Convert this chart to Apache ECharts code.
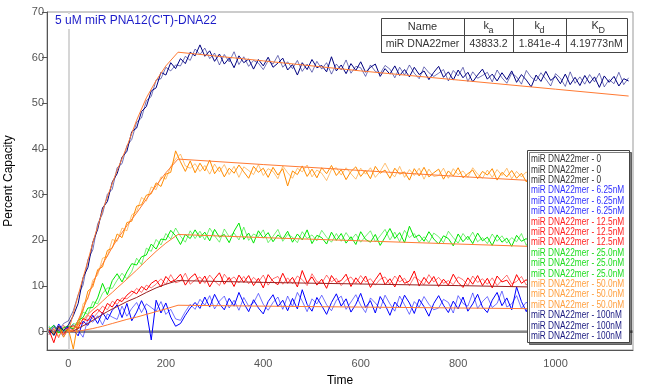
<!DOCTYPE html>
<html><head><meta charset="utf-8">
<script src="https://cdn.jsdelivr.net/npm/echarts@6/dist/echarts.min.js"></script>
<style>html,body{margin:0;padding:0;background:#fff}#c{width:645px;height:391px}</style>
</head><body><div id="c"></div>
<script>
// sample times (s)
const time = [
 -40,-30,-20,-10,0,10,20,30,40,50,
 60,70,80,90,100,110,120,130,140,150,
 160,170,180,190,200,210,220,230,240,250,
 260,270,280,290,300,310,320,330,340,350,
 360,370,380,390,400,410,420,430,440,450,
 460,470,480,490,500,510,520,530,540,550,
 560,570,580,590,600,610,620,630,640,650,
 660,670,680,690,700,710,720,730,740,750,
 760,770,780,790,800,810,820,830,840,850,
 860,870,880,890,900,910,920,930,940,950,
 960,970,980,990,1000,1010,1020,1030,1040,1050,
 1060,1070,1080,1090,1100,1110,1120,1130,1140,1150];

// 100 nM traces
const navyA = [
 0.5,-0.8,1.2,0.3,1.5,3.5,6.2,11.8,14.1,19.6,
 22.4,27.1,28.5,32.8,34.6,38.2,39.5,43.8,44.6,48.2,
 49.3,52.7,53.4,56.8,56.2,58.9,57.6,59.8,58.7,61.2,
 60.4,62.8,60.3,61.5,59.2,60.8,58.6,59.9,57.8,60.4,
 58.9,59.7,57.5,59.6,58.2,60.1,57.9,58.8,59.9,57.3,
 58.5,56.2,58.9,57.4,59.6,57.8,58.3,56.9,60.2,57.1,
 58.4,56.5,58.7,57.2,59.1,56.8,57.9,58.6,55.9,57.6,
 56.4,58.2,56.1,57.4,55.8,57.9,56.3,57.1,55.2,56.8,
 58.1,55.7,56.9,55.1,57.3,55.6,56.8,54.7,56.2,57.5,
 55.3,56.4,54.9,56.7,55.2,57.1,54.6,56.3,55.1,53.6,
 56.2,54.8,57.0,55.0,55.9,54.3,56.4,54.1,55.7,53.9,
 56.1,54.4,55.8,53.5,56.0,54.6,55.9,53.8,55.4,54.9];
const navyB = [
 -0.6,1.1,0.2,1.8,2.4,4.6,8.1,10.2,15.8,17.9,
 23.6,25.8,30.1,31.2,35.9,36.8,40.7,42.1,45.9,46.8,
 50.6,51.5,55.1,55.4,57.9,57.1,58.4,58.2,60.3,59.4,
 61.9,60.7,62.1,59.8,61.0,58.4,60.7,59.1,61.3,58.5,
 60.2,58.1,59.4,58.8,57.4,59.3,58.6,60.5,57.9,59.1,
 57.6,59.4,57.0,58.6,56.8,59.2,57.5,58.9,56.4,58.6,
 57.3,59.5,56.6,58.1,57.8,55.9,58.4,57.0,56.5,58.3,
 57.5,55.6,57.9,56.2,58.4,56.6,55.4,58.0,56.7,55.9,
 56.6,57.4,54.9,57.2,56.0,57.9,54.8,56.9,55.5,56.1,
 56.8,54.7,57.3,55.6,54.4,56.6,55.8,54.2,57.2,55.7,
 54.9,56.7,55.3,53.8,56.5,55.5,53.7,56.9,54.4,55.8,
 54.2,56.3,54.7,56.6,53.6,55.2,54.3,56.8,54.1,55.6];
// 50 nM traces
const orangeA = [
 0.8,-0.5,1.3,-1.2,0.6,-3.8,2.4,4.6,8.9,9.8,
 13.6,14.2,17.8,18.3,21.4,20.6,23.9,24.2,27.5,27.8,
 29.9,30.2,32.6,31.8,34.5,34.9,39.6,37.2,35.1,37.4,
 34.8,36.9,35.2,37.6,34.6,36.1,33.9,35.8,34.7,36.5,
 35.0,33.6,36.2,34.9,35.8,33.8,36.0,34.3,35.7,31.9,
 35.2,34.4,36.3,34.0,35.6,33.7,35.9,34.6,36.4,34.2,
 35.5,33.3,35.1,36.1,34.0,35.3,33.5,36.2,34.7,35.4,
 33.6,35.8,34.5,35.0,33.2,35.7,34.1,36.0,33.9,34.8,
 35.6,33.4,35.2,34.1,35.9,33.7,34.6,35.4,33.5,35.1,
 34.3,35.7,33.2,34.9,33.9,35.3,33.6,34.7,32.8,34.5,
 33.7,35.1,33.3,34.4,35.2,32.9,34.6,33.6,34.9,33.1,
 34.2,33.5,35.0,32.8,34.3,33.9,33.2,34.6,33.4,34.1];
const orangeB = [
 -0.4,0.9,-1.0,0.7,0.2,1.1,0.6,6.1,7.2,11.3,
 12.4,16.1,16.5,20.2,19.8,22.7,22.1,25.6,26.3,29.4,
 28.6,31.7,31.1,33.9,33.4,36.2,37.8,38.9,36.3,35.8,
 36.8,35.1,36.4,34.5,36.7,35.0,36.6,34.4,36.2,33.8,
 36.1,35.3,34.4,36.6,34.2,35.7,35.1,33.5,36.3,34.8,
 33.6,35.8,35.0,36.5,33.9,35.4,34.7,33.1,35.5,35.9,
 34.3,35.9,34.6,33.4,35.8,34.5,35.9,33.8,35.1,36.9,
 34.9,33.9,36.2,33.8,35.5,34.2,35.8,33.4,35.6,34.0,
 34.2,35.8,33.6,35.7,34.4,35.2,33.8,35.9,34.5,33.6,
 35.4,33.8,35.5,34.2,35.8,33.5,35.1,33.9,35.0,33.7,
 35.2,33.4,34.8,35.6,33.5,34.7,33.2,35.3,33.8,34.5,
 33.2,35.1,33.7,34.4,33.0,35.2,34.5,33.1,34.8,33.6];
// 25 nM traces
const greenA = [
 0.5,1.4,-0.3,0.9,1.2,0.6,2.5,3.1,5.2,5.3,
 7.4,10.6,8.1,11.2,12.7,10.9,13.1,14.9,14.6,16.4,
 16.8,19.2,18.1,20.3,20.1,22.2,21.0,19.1,21.3,20.4,
 22.3,20.6,21.8,19.9,22.4,20.7,21.3,19.5,22.0,23.8,
 20.2,21.6,19.4,22.1,20.5,21.7,19.7,21.2,20.3,22.0,
 19.6,21.4,20.1,22.3,19.3,21.1,20.6,19.2,21.8,20.0,
 21.5,19.4,20.8,19.1,21.9,20.2,19.6,21.3,18.9,20.7,
 22.6,20.4,21.7,19.5,23.1,20.6,21.2,19.8,21.9,20.3,
 19.2,21.0,20.4,18.8,21.4,19.7,20.9,19.3,21.6,19.9,
 20.7,18.9,21.2,19.6,20.5,18.7,21.1,19.8,20.4,19.1,
 21.0,19.4,20.2,18.8,20.9,19.6,20.5,19.0,21.3,19.5,
 20.1,18.9,20.8,19.7,19.2,21.0,19.4,20.3,18.6,20.2];
const greenB = [
 1.3,-0.8,1.0,0.2,0.4,1.8,1.5,4.3,3.8,6.6,
 6.1,8.4,9.6,9.5,11.3,12.8,11.6,13.2,16.1,14.7,
 18.3,17.6,20.2,19.0,21.5,20.3,22.7,20.9,19.6,22.1,
 20.4,22.0,20.1,22.7,21.0,19.6,22.5,20.8,21.6,20.1,
 22.9,20.0,21.4,20.8,22.3,19.5,20.9,22.4,19.8,21.3,
 20.7,19.5,21.9,20.4,21.2,19.9,22.2,20.7,19.6,21.5,
 19.8,21.7,20.1,21.4,19.6,20.9,22.1,19.7,21.0,22.4,
 20.1,21.8,19.7,22.2,20.6,21.5,19.6,20.8,19.5,21.6,
 20.8,19.5,22.0,20.6,19.4,21.5,20.1,21.8,19.7,20.6,
 19.3,21.4,19.8,21.0,19.4,20.6,19.7,21.5,18.9,20.8,
 19.2,21.1,19.8,20.9,18.9,21.2,19.3,20.7,19.6,20.1,
 21.0,19.5,19.9,21.3,20.4,18.8,20.6,19.5,20.9,19.3];
// 12.5 nM traces
const redA = [
 0.4,-2.4,1.1,-0.6,0.9,1.3,0.8,2.9,2.4,4.1,
 4.9,4.0,6.2,5.4,7.1,6.6,8.0,8.9,8.3,9.9,
 9.1,10.6,11.3,9.8,12.1,10.9,11.4,12.6,10.2,11.8,
 12.7,10.5,12.2,9.8,11.6,12.9,10.4,11.9,9.9,12.4,
 10.8,12.3,10.1,11.7,9.6,12.5,11.0,10.3,12.8,10.6,
 11.9,9.8,13.4,10.7,12.0,10.2,11.5,9.5,12.3,10.8,
 11.2,12.6,9.9,11.8,10.4,12.2,9.7,11.4,12.9,10.3,
 11.6,9.8,12.4,10.6,11.1,13.3,10.0,11.9,10.5,12.1,
 9.9,11.5,10.2,12.6,10.8,9.7,11.8,10.4,12.3,10.1,
 11.7,9.6,12.2,10.9,11.3,9.8,12.5,10.6,11.4,9.9,
 12.0,10.7,11.1,9.5,12.4,10.3,11.6,10.0,12.1,10.8,
 9.7,11.9,10.5,12.6,10.2,11.3,9.9,13.2,10.7,11.5];
const redB = [
 -0.7,0.6,-1.3,1.4,0.1,0.5,2.0,1.7,3.6,2.9,
 4.2,5.6,4.8,6.7,6.0,7.4,7.2,8.1,9.5,8.6,
 10.2,9.6,10.4,11.6,10.3,12.5,10.7,11.1,12.8,10.4,
 11.3,12.0,10.6,12.4,11.1,10.1,12.6,11.2,12.0,10.7,
 12.1,10.5,11.9,10.9,12.4,10.2,11.6,12.1,10.4,11.8,
 10.5,12.2,11.4,10.1,12.7,11.0,10.6,12.4,10.9,11.7,
 10.1,11.3,12.0,10.6,12.3,10.9,11.6,10.2,11.5,12.0,
 10.4,12.2,10.9,11.7,10.1,12.0,11.3,10.3,12.5,10.9,
 11.9,10.6,11.2,10.3,12.0,11.4,10.1,12.2,10.8,11.6,
 10.4,11.8,10.1,11.3,12.4,10.5,11.0,12.1,10.2,11.7,
 10.6,11.9,10.4,11.8,10.7,11.9,10.1,11.6,10.5,12.5,
 11.0,10.3,12.0,10.6,11.7,10.0,12.3,10.8,11.4,10.2];
// 6.25 nM traces
const blueA = [
 0.9,-0.6,1.7,0.2,1.1,0.4,-0.9,2.3,1.4,3.6,
 1.8,4.2,2.6,4.7,5.9,3.1,6.2,2.4,4.3,6.8,
 4.6,-1.8,6.9,4.1,6.3,3.2,1.2,1.8,3.6,5.2,
 6.4,5.1,7.6,5.4,8.2,6.1,4.8,7.3,5.6,8.6,
 6.2,4.4,7.0,5.2,3.9,6.6,8.1,5.5,6.9,4.6,
 7.3,5.0,9.2,6.0,4.5,7.5,5.7,3.8,6.4,8.3,
 5.6,7.2,4.3,6.0,8.4,5.3,6.8,4.1,7.7,5.9,
 3.6,6.5,5.2,8.0,6.3,4.0,7.1,5.5,3.4,6.2,
 7.9,5.8,4.2,6.7,5.0,7.6,4.5,6.1,8.2,5.4,
 4.2,6.9,8.6,5.7,7.4,4.8,9.8,6.6,4.4,7.2,
 5.3,7.0,4.6,6.3,8.1,5.1,6.7,4.3,7.4,5.8,
 6.5,4.1,7.2,5.6,3.9,6.8,5.2,7.5,4.6,5.9];
const blueB = [
 -0.3,1.5,0.4,-1.1,0.8,1.6,0.3,-1.2,2.8,2.1,
 3.5,1.5,3.9,3.2,2.7,5.6,3.4,5.1,6.4,4.2,
 6.1,5.3,4.5,6.6,3.8,4.9,2.8,2.5,4.4,6.0,
 4.9,7.1,5.8,7.9,5.0,6.7,7.8,5.2,6.9,4.7,
 7.5,5.6,6.3,8.4,6.0,4.7,6.4,7.6,4.9,7.8,
 5.5,8.6,6.7,4.4,7.2,6.1,8.0,5.9,4.6,6.9,
 7.8,4.9,6.5,8.1,5.8,4.2,7.4,6.3,5.0,8.0,
 6.1,4.5,7.8,5.9,3.8,6.6,5.4,7.7,6.0,4.8,
 5.2,7.1,6.4,4.1,7.9,6.2,5.6,8.5,5.1,6.6,
 7.7,5.3,6.2,8.9,5.4,6.1,7.9,5.1,6.5,5.0,
 6.8,4.5,7.8,5.4,6.2,4.7,7.3,5.9,4.9,6.6,
 5.0,7.1,5.8,4.2,6.9,5.3,4.4,6.1,5.5,4.3];

// fitted curves
const fitTime = [0,10,20,30,40,50,60,70,80,90,100,120,140,160,180,200,225,400,600,800,1000,1150];
const navyFit   = [0,4,8,11.8,15.5,19.5,23,26.5,29.5,32.5,35.3,40.5,46.3,51.2,55,58.2,61.2,59.3,57.1,55.1,53.1,51.6];
const orangeFit = [0,0.3,2.5,5,7.5,10.5,13,14.8,16.6,18.5,20.2,23.2,26,29,32,34.8,37.8,36.6,35.3,34.0,32.8,31.9];
const greenFit  = [0,0.5,1.5,2.6,3.8,4.8,5.7,6.7,7.7,8.6,9.6,11.5,13.5,15.6,17.6,19.4,21.3,20.6,19.9,19.2,18.5,18.0];
const redFit    = [0,0.2,0.7,1.3,1.8,2.5,3.1,3.8,4.4,5.0,5.5,6.6,7.5,8.6,9.6,10.4,11.2,10.8,10.45,10.1,9.7,9.45];
const blueFit   = [0,0.05,0.15,0.3,0.5,0.7,0.95,1.2,1.5,1.8,2.1,2.7,3.2,3.8,4.4,5.0,5.8,5.6,5.4,5.2,5.0,4.9];

// 0 nM (buffer) trace
const zeroTime = [-44,1159];
const zeroVal  = [0,0];

// legend labels
const legendLabels = [
 'miR DNA22mer - 0','miR DNA22mer - 0','miR DNA22mer - 0',
 'miR DNA22mer - 6.25nM','miR DNA22mer - 6.25nM','miR DNA22mer - 6.25nM',
 'miR DNA22mer - 12.5nM','miR DNA22mer - 12.5nM','miR DNA22mer - 12.5nM',
 'miR DNA22mer - 25.0nM','miR DNA22mer - 25.0nM','miR DNA22mer - 25.0nM',
 'miR DNA22mer - 50.0nM','miR DNA22mer - 50.0nM','miR DNA22mer - 50.0nM',
 'miR DNA22mer - 100nM','miR DNA22mer - 100nM','miR DNA22mer - 100nM'];
const legendGroups = ['z','z','z','b','b','b','r','r','r','g','g','g','o','o','o','n','n','n'];

// kinetics table
const tableHead = ['Name','k','k','K'];
const tableSubs = ['','a','d','D'];
const tableRow  = ['miR DNA22mer','43833.2','1.841e-4','4.19773nM'];

const titleText = "5 uM miR PNA12(C'T)-DNA22";

const C = {z:'#444444', b:'#0000ff', r:'#ff0000', g:'#00e600', o:'#ff8c00', n:'#000080'};
const legendText = {z:'#333333', b:'#3030ff', r:'#ff2020', g:'#20dd20', o:'#ffa040', n:'#1a1a80'};
const FIT = '#ff7a33';
const FONT = 'Liberation Sans, Arial, sans-serif';

const pair = (ts, vs) => ts.map((t, i) => [t, vs[i]]);

function trace(name, vals, color, op) {
  return {name, type:'line', data:pair(time, vals), showSymbol:false, symbol:'none',
    lineStyle:{width:1, color, opacity:op}, itemStyle:{color}, silent:true, z:3};
}
function fit(name, vals, color) {
  return {name, type:'line', data:pair(fitTime, vals), showSymbol:false, symbol:'none',
    lineStyle:{width:1, color}, itemStyle:{color}, silent:true, z:4};
}
function zero(name, withMark) {
  const s = {name, type:'line', data:pair(zeroTime, zeroVal), showSymbol:false, symbol:'none',
    lineStyle:{width:2, color:'#888888'}, itemStyle:{color:'#888888'}, silent:true, z:2};
  if (withMark) s.markLine = {symbol:'none', silent:true, label:{show:false},
    lineStyle:{color:'#d6d6d6', width:2, type:'solid'}, data:[{xAxis:0}], z:1};
  return s;
}

const series = [
  zero('miR DNA22mer - 0 (a)', true), zero('miR DNA22mer - 0 (b)'), zero('miR DNA22mer - 0 (c)'),
  trace('6.25nM a', blueA, C.b, 1), trace('6.25nM b', blueB, C.b, 0.55),
  trace('12.5nM a', redA, C.r, 1), trace('12.5nM b', redB, C.r, 0.55),
  trace('25.0nM a', greenA, C.g, 1), trace('25.0nM b', greenB, C.g, 0.55),
  trace('50.0nM a', orangeA, C.o, 1), trace('50.0nM b', orangeB, C.o, 0.55),
  trace('100nM a', navyA, C.n, 1), trace('100nM b', navyB, C.n, 0.55),
  fit('6.25nM fit', blueFit, FIT), fit('12.5nM fit', redFit, '#9a2020'), fit('25.0nM fit', greenFit, FIT),
  fit('50.0nM fit', orangeFit, FIT), fit('100nM fit', navyFit, FIT)
];

const ZT = 100;
// table graphic
const tx = [381, 464, 513, 566, 627], ty = [18, 35, 52];
const tableEls = [
  {type:'rect', z:ZT, shape:{x:tx[0]+0.5, y:ty[0]+0.5, width:tx[4]-tx[0], height:ty[2]-ty[0]}, style:{fill:'#fff', stroke:'#444', lineWidth:1}},
  {type:'line', z:ZT+1, shape:{x1:tx[0], y1:ty[1]+0.5, x2:tx[4], y2:ty[1]+0.5}, style:{stroke:'#444', lineWidth:1}}
];
for (let i = 1; i < 4; i++) tableEls.push({type:'line', z:ZT+1, shape:{x1:tx[i]+0.5, y1:ty[0], x2:tx[i]+0.5, y2:ty[2]}, style:{stroke:'#444', lineWidth:1}});
const subOffset = [0, 5, 5, 7];
for (let i = 0; i < 4; i++) {
  const cx = (tx[i] + tx[i+1]) / 2;
  if (i === 0) {
    tableEls.push({type:'text', z:ZT+1, x:cx, y:26.5, style:{text:tableHead[i], fill:'#333', font:'11px '+FONT, align:'center', verticalAlign:'middle'}});
  } else {
    tableEls.push({type:'text', z:ZT+1, x:cx - 5, y:26, style:{text:tableHead[i], fill:'#333', font:'11px '+FONT, align:'left', verticalAlign:'middle'}});
    tableEls.push({type:'text', z:ZT+1, x:cx - 5 + subOffset[i], y:30.5, style:{text:tableSubs[i], fill:'#333', font:'9px '+FONT, align:'left', verticalAlign:'middle'}});
  }
  tableEls.push({type:'text', z:ZT+1, x:cx, y:44, style:{text:tableRow[i], fill:'#333', font:'10.5px '+FONT, align:'center', verticalAlign:'middle'}});
}

// legend graphic (box with shadow, condensed text)
const legX = 527, legY = 150, legW = 102, legH = 192, legLine = 10.4;
const legendEls = [
  {type:'rect', z:ZT, shape:{x:legX+0.5, y:legY+0.5, width:legW, height:legH},
   style:{fill:'#fff', stroke:'#444', lineWidth:1, shadowColor:'rgba(0,0,0,0.5)', shadowOffsetX:2, shadowOffsetY:2, shadowBlur:0}}
];
legendLabels.forEach((t, i) => legendEls.push({type:'text', z:ZT+1, x:legX + 4, y:legY + 9.5 + i * legLine, scaleX:0.83,
  style:{text:t, fill:legendText[legendGroups[i]], font:'10px '+FONT, align:'left', verticalAlign:'middle'}}));

const option = {
  animation:false,
  backgroundColor:'#fff',
  textStyle:{fontFamily:FONT},
  grid:{left:47, right:12, top:12, bottom:41, show:true, borderColor:'#999', borderWidth:1, containLabel:false, outerBoundsMode:'none'},
  xAxis:{type:'value', min:-44, max:1159, splitNumber:6,
    name:'Time', nameLocation:'middle', nameGap:25, nameTextStyle:{fontSize:12, color:'#000', fontFamily:FONT},
    axisLine:{onZero:false, lineStyle:{color:'#555', width:1}},
    axisTick:{show:false},
    axisLabel:{showMinLabel:false, showMaxLabel:false, fontSize:11, color:'#555', margin:8, fontFamily:FONT, formatter:(v) => String(v)},
    splitLine:{show:false}},
  yAxis:{type:'value', min:-4, max:70, splitNumber:7,
    name:'Percent Capacity', nameLocation:'middle', nameGap:32, nameRotate:90,
    nameTextStyle:{fontSize:12, color:'#000', fontFamily:FONT},
    axisLine:{show:true, onZero:false, lineStyle:{color:'#555', width:1}},
    axisTick:{show:true, length:5, lineStyle:{color:'#555'}},
    axisLabel:{showMinLabel:false, fontSize:11, color:'#555', margin:3, fontFamily:FONT, formatter:(v) => String(v)},
    splitLine:{show:false}},
  graphic:[
    {type:'text', left:54, top:14, z:ZT, style:{text:titleText, fill:'#1c1cc8', font:'12px '+FONT, backgroundColor:'#fff', padding:[1,1,2,1]}},
    {type:'group', z:ZT, children:tableEls},
    {type:'group', z:ZT, children:legendEls}
  ],
  series
};
const chart = echarts.init(document.getElementById('c'), null, {renderer:'canvas'});
chart.setOption(option);
</script></body></html>
